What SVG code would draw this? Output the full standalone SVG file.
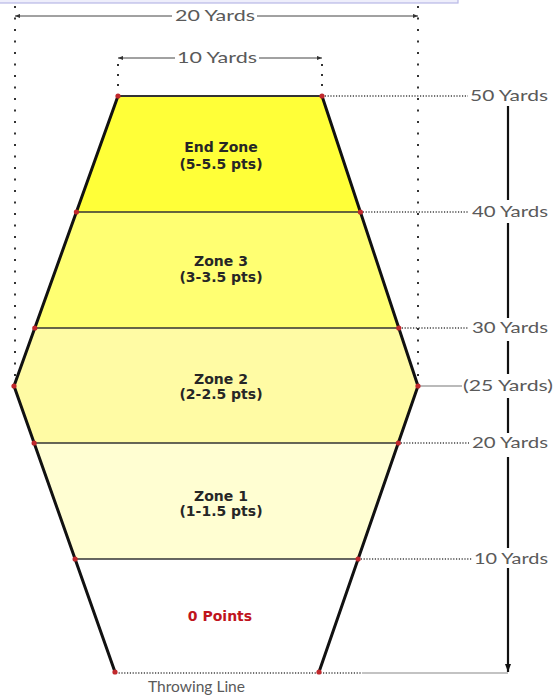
<svg xmlns="http://www.w3.org/2000/svg" width="555" height="699" viewBox="0 0 555 699">
<defs>
<style>
.lbl{font-family:"Lato","Open Sans","Liberation Sans",sans-serif;font-size:15px;fill:#5a5a5a}
.zone{font-family:"DejaVu Sans","Liberation Sans",sans-serif;font-size:14px;font-weight:bold;fill:#262626;text-anchor:middle}
.side{fill:none;stroke:#111;stroke-width:3;stroke-linejoin:round}
.div{stroke:#333;stroke-width:1.6}
.dotv{stroke:#333;stroke-width:2;stroke-dasharray:2 9.5}
.doth{stroke:#444;stroke-width:1.5;stroke-dasharray:1.2 1.6}
.dim{stroke:#444;stroke-width:1}
.dot{fill:#c0282c}
</style>
<marker id="ah" viewBox="0 0 8 8" refX="8" refY="4" markerWidth="8" markerHeight="8" markerUnits="userSpaceOnUse" orient="auto"><path d="M0,1 L8,4 L0,7 z" fill="#111"/></marker>
<marker id="sa" viewBox="0 0 6 6" refX="6" refY="3" markerWidth="5" markerHeight="5" markerUnits="userSpaceOnUse" orient="auto"><path d="M0,0.5 L6,3 L0,5.5 z" fill="#333"/></marker>
</defs>
<rect width="555" height="699" fill="#fff"/>
<rect x="-2" y="-2" width="460" height="5" fill="#eeeefb" stroke="#b8b8e6" stroke-width="1.2"/>

<g id="zones">
<g id="end-zone"><polygon points="118,96 322,96 360.4,212 76.4,212" fill="#ffff38"/><text class="zone" x="221" y="152">End Zone</text><text class="zone" x="221" y="169">(5-5.5 pts)</text></g>
<g id="zone-3"><polygon points="76.4,212 360.4,212 398.8,328 34.8,328" fill="#ffff72"/><text class="zone" x="221" y="266">Zone 3</text><text class="zone" x="221" y="282">(3-3.5 pts)</text></g>
<g id="zone-2"><polygon points="34.8,328 398.8,328 418,386 398.3,443 34.1,443 14,386" fill="#fffba4"/><text class="zone" x="221" y="384">Zone 2</text><text class="zone" x="221" y="399">(2-2.5 pts)</text></g>
<g id="zone-1"><polygon points="34.1,443 398.3,443 358.1,559 75.1,559" fill="#fffed2"/><text class="zone" x="221" y="501">Zone 1</text><text class="zone" x="221" y="516">(1-1.5 pts)</text></g>
<g id="zero"><polygon points="75.1,559 358.1,559 319,672 115,672" fill="#fff"/><text class="zone" x="220" y="621" style="fill:#c0141c">0 Points</text></g>
</g>

<g id="connectors">
<line class="dotv" x1="15" y1="6" x2="15" y2="378"/>
<line class="dotv" x1="418" y1="6" x2="418" y2="378"/>
<line class="dotv" x1="118" y1="64" x2="118" y2="94" style="stroke-dasharray:2 8"/>
<line class="dotv" x1="322" y1="64" x2="322" y2="94" style="stroke-dasharray:2 8"/>
<line class="dim" x1="172" y1="16" x2="15" y2="16" marker-end="url(#sa)"/>
<line class="dim" x1="257" y1="16" x2="418" y2="16" marker-end="url(#sa)"/>
<line class="dim" x1="175" y1="58" x2="118" y2="58" marker-end="url(#sa)"/>
<line class="dim" x1="259" y1="58" x2="322" y2="58" marker-end="url(#sa)"/>
<line class="div" x1="118" y1="96" x2="322" y2="96" style="stroke-width:2"/>
<line class="div" x1="76.4" y1="212" x2="360.4" y2="212"/>
<line class="div" x1="34.8" y1="328" x2="398.8" y2="328"/>
<line class="div" x1="34.1" y1="443" x2="398.3" y2="443"/>
<line class="div" x1="75.1" y1="559" x2="358.1" y2="559"/>
<polyline class="side" points="118,96 14,386 115,672"/>
<polyline class="side" points="322,96 418,386 319,672"/>
<line class="doth" x1="322" y1="96" x2="468" y2="96"/>
<line class="doth" x1="360" y1="212" x2="469" y2="212"/>
<line class="doth" x1="399" y1="328" x2="469" y2="328"/>
<line x1="418" y1="386" x2="462" y2="386" stroke="#777" stroke-width="1.2"/>
<line class="doth" x1="398" y1="443" x2="469" y2="443"/>
<line class="doth" x1="358" y1="559" x2="472" y2="559"/>
<line class="doth" x1="113" y1="673" x2="362" y2="673"/>
<line x1="362" y1="673" x2="508" y2="673" stroke="#888" stroke-width="1.2"/>
<g stroke="#111" stroke-width="2.2">
<line x1="508" y1="106" x2="508" y2="200"/>
<line x1="508" y1="223" x2="508" y2="318"/>
<line x1="508" y1="341" x2="508" y2="374"/>
<line x1="508" y1="398" x2="508" y2="433"/>
<line x1="508" y1="457" x2="508" y2="548"/>
<line x1="508" y1="568" x2="508" y2="672" marker-end="url(#ah)"/>
</g>
<g class="dot">
<circle cx="118" cy="96" r="2.6"/><circle cx="322" cy="96" r="2.6"/>
<circle cx="76.4" cy="212" r="2.6"/><circle cx="360.4" cy="212" r="2.6"/>
<circle cx="34.8" cy="328" r="2.6"/><circle cx="398.8" cy="328" r="2.6"/>
<circle cx="14" cy="386" r="2.6"/><circle cx="418" cy="386" r="2.6"/>
<circle cx="34.1" cy="443" r="2.6"/><circle cx="398.3" cy="443" r="2.6"/>
<circle cx="75.1" cy="559" r="2.6"/><circle cx="358.1" cy="559" r="2.6"/>
<circle cx="115" cy="672" r="2.6"/><circle cx="319" cy="672" r="2.6"/>
</g>
</g>

<g id="labels">
<text class="lbl" x="175" y="21" textLength="80" lengthAdjust="spacingAndGlyphs">20 Yards</text>
<text class="lbl" x="177" y="63" textLength="80" lengthAdjust="spacingAndGlyphs">10 Yards</text>
<text class="lbl" x="470" y="101" textLength="78" lengthAdjust="spacingAndGlyphs">50 Yards</text>
<text class="lbl" x="472" y="217" textLength="76" lengthAdjust="spacingAndGlyphs">40 Yards</text>
<text class="lbl" x="472" y="333" textLength="76" lengthAdjust="spacingAndGlyphs">30 Yards</text>
<text class="lbl" x="463" y="391" textLength="90" lengthAdjust="spacingAndGlyphs">(25 Yards)</text>
<text class="lbl" x="472" y="448" textLength="76" lengthAdjust="spacingAndGlyphs">20 Yards</text>
<text class="lbl" x="474" y="564" textLength="74" lengthAdjust="spacingAndGlyphs">10 Yards</text>
<text class="lbl" x="148" y="692" textLength="97" lengthAdjust="spacingAndGlyphs">Throwing Line</text>
</g>
</svg>
